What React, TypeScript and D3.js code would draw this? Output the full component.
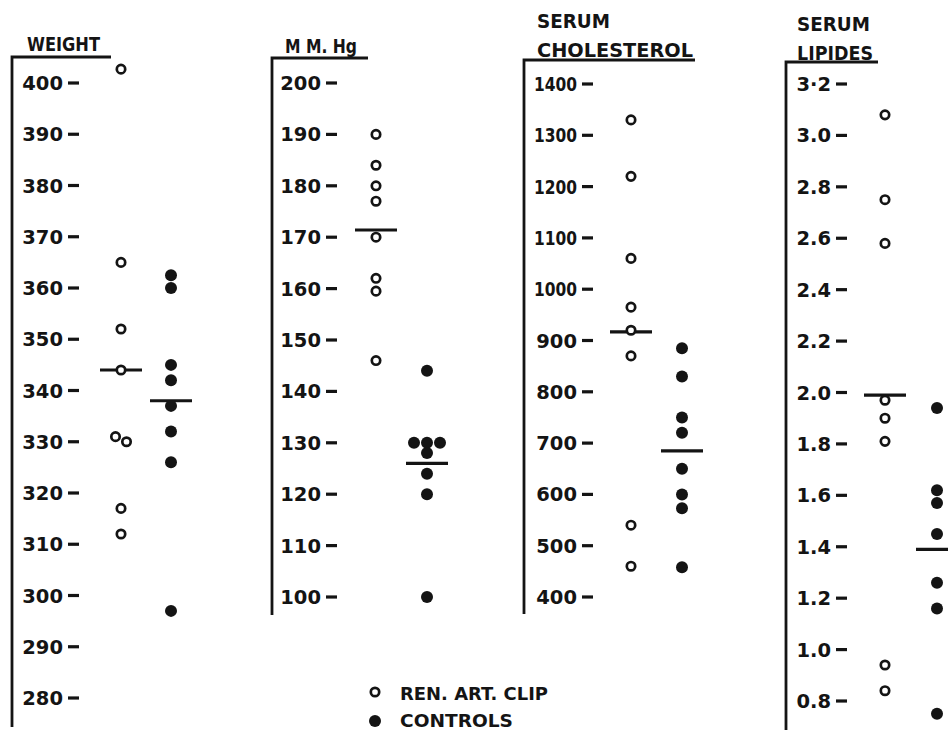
import React from "react";
import * as d3 from "d3";

// ---------- DATA ----------
const groups = ["REN. ART. CLIP", "CONTROLS"];

const weightTicks = [400, 390, 380, 370, 360, 350, 340, 330, 320, 310, 300, 290, 280];
const weightClip = [402.7, 365, 352, 344, 331, 330, 317, 312];
const weightControls = [362.5, 360, 345, 342, 337, 332, 326, 297];
const weightMeans = [344, 338];

const mmHgTicks = [200, 190, 180, 170, 160, 150, 140, 130, 120, 110, 100];
const mmHgClip = [190, 184, 180, 177, 170, 162, 159.5, 146];
const mmHgControls = [144, 130, 130, 130, 128, 124, 120, 100];
const mmHgMeans = [171.4, 126];

const cholTicks = [1400, 1300, 1200, 1100, 1000, 900, 800, 700, 600, 500, 400];
const cholClip = [1330, 1220, 1060, 965, 920, 870, 540, 460];
const cholControls = [885, 830, 750, 720, 650, 600, 573, 458];
const cholMeans = [917, 685];

const lipTicks = [3.2, 3.0, 2.8, 2.6, 2.4, 2.2, 2.0, 1.8, 1.6, 1.4, 1.2, 1.0, 0.8];
const lipTickLabels = ["3·2", "3.0", "2.8", "2.6", "2.4", "2.2", "2.0", "1.8", "1.6", "1.4", "1.2", "1.0", "0.8"];
const lipClip = [3.08, 2.75, 2.58, 1.97, 1.9, 1.81, 0.94, 0.84];
const lipControls = [1.94, 1.62, 1.57, 1.45, 1.26, 1.16, 0.75];
const lipMeans = [1.99, 1.39];

// ---------- LAYOUT ----------
const INK = "#141414";
const FONT = "'DejaVu Sans', sans-serif";

type Title = { text: string; x: number; y: number; w: number };
type Panel = {
  ticks: number[];
  labels: string[];
  clip: number[];
  controls: number[];
  means: number[];
  domain: [number, number];
  range: [number, number];
  axisX: number;
  topY: number;
  lineRight: number;
  bottomY: number;
  labelRight: number;
  colRange: [number, number];
  titles: Title[];
};

const panels: Panel[] = [
  {
    ticks: weightTicks,
    labels: weightTicks.map(String),
    clip: weightClip,
    controls: weightControls,
    means: weightMeans,
    domain: [280, 400],
    range: [698, 83],
    axisX: 12,
    topY: 57,
    lineRight: 111,
    bottomY: 727,
    labelRight: 63,
    colRange: [121, 171],
    titles: [{ text: "WEIGHT", x: 27, y: 51, w: 73 }],
  },
  {
    ticks: mmHgTicks,
    labels: mmHgTicks.map(String),
    clip: mmHgClip,
    controls: mmHgControls,
    means: mmHgMeans,
    domain: [100, 200],
    range: [597, 83],
    axisX: 272,
    topY: 58,
    lineRight: 368,
    bottomY: 615,
    labelRight: 321,
    colRange: [376, 427],
    titles: [{ text: "M M. Hg", x: 285, y: 53, w: 72 }],
  },
  {
    ticks: cholTicks,
    labels: cholTicks.map(String),
    clip: cholClip,
    controls: cholControls,
    means: cholMeans,
    domain: [400, 1400],
    range: [597, 84],
    axisX: 524,
    topY: 60,
    lineRight: 695,
    bottomY: 614,
    labelRight: 577,
    colRange: [631, 682],
    titles: [
      { text: "SERUM", x: 537, y: 28, w: 73 },
      { text: "CHOLESTEROL", x: 537, y: 57, w: 156 },
    ],
  },
  {
    ticks: lipTicks,
    labels: lipTickLabels,
    clip: lipClip,
    controls: lipControls,
    means: lipMeans,
    domain: [0.8, 3.2],
    range: [701, 84],
    axisX: 786,
    topY: 62,
    lineRight: 878,
    bottomY: 730,
    labelRight: 831,
    colRange: [885, 937],
    titles: [
      { text: "SERUM", x: 797, y: 31, w: 73 },
      { text: "LIPIDES", x: 797, y: 60, w: 76 },
    ],
  },
];

function swarm(values: number[], y: d3.ScaleLinear<number, number>, cx: number, spacing: number) {
  const pts = values.map((v) => ({ v, y: y(v), x: cx }));
  const sorted = [...pts].sort((a, b) => a.y - b.y);
  let i = 0;
  while (i < sorted.length) {
    let j = i + 1;
    while (j < sorted.length && Math.abs(sorted[j].y - sorted[i].y) < 7) j++;
    const n = j - i;
    for (let k = i; k < j; k++) sorted[k].x = cx + (k - i - (n - 1) / 2) * spacing;
    i = j;
  }
  return sorted;
}

function PanelView({ p }: { p: Panel }) {
  const y = d3.scaleLinear().domain(p.domain).range(p.range);
  const xg = d3.scalePoint<string>().domain(groups).range(p.colRange);
  const clipPts = swarm(p.clip, y, xg(groups[0])!, 11);
  const ctrlPts = swarm(p.controls, y, xg(groups[1])!, 13);
  return (
    <g>
      {p.titles.map((t, i) => (
        <text
          key={i}
          x={t.x}
          y={t.y}
          textLength={t.w}
          lengthAdjust="spacingAndGlyphs"
          fontFamily={FONT}
          fontWeight="bold"
          fontSize={19}
          fill={INK}
        >
          {t.text}
        </text>
      ))}
      <path
        d={`M${p.lineRight},${p.topY}H${p.axisX}V${p.bottomY}`}
        fill="none"
        stroke={INK}
        strokeWidth={2.8}
      />
      {p.ticks.map((t, i) => {
        const lab = p.labels[i];
        const narrow = lab.length >= 4 && lab[0] === "1";
        return (
          <g key={i} transform={`translate(0,${y(t)})`}>
            <text
              x={p.labelRight}
              dy="0.36em"
              textAnchor="end"
              fontFamily={FONT}
              fontWeight="bold"
              fontSize={19.5}
              fill={INK}
              {...(narrow ? { textLength: 43, lengthAdjust: "spacingAndGlyphs" } : {})}
            >
              {lab}
            </text>
            <line x1={p.labelRight + 5} x2={p.labelRight + 16} stroke={INK} strokeWidth={3.2} />
          </g>
        );
      })}
      {p.means.map((m, i) => {
        const cx = xg(groups[i])!;
        return (
          <line key={i} x1={cx - 21} x2={cx + 21} y1={y(m)} y2={y(m)} stroke={INK} strokeWidth={3.2} />
        );
      })}
      {clipPts.map((d, i) => (
        <circle key={"o" + i} cx={d.x} cy={d.y} r={4.2} fill="white" stroke={INK} strokeWidth={2.7} />
      ))}
      {ctrlPts.map((d, i) => (
        <circle key={"f" + i} cx={d.x} cy={d.y} r={6} fill={INK} />
      ))}
    </g>
  );
}

export default function App() {
  return (
    <svg
      width={948}
      height={732}
      style={{ position: "absolute", left: 0, top: 0, background: "white" }}
    >
      <rect width={948} height={732} fill="white" />
      {panels.map((p, i) => (
        <PanelView key={i} p={p} />
      ))}
      <g>
        <circle cx={375} cy={692} r={4.2} fill="white" stroke={INK} strokeWidth={2.7} />
        <text x={400} y={700} textLength={148} lengthAdjust="spacingAndGlyphs" fontFamily={FONT} fontWeight="bold" fontSize={18} fill={INK}>
          {groups[0]}
        </text>
        <circle cx={375} cy={721} r={6} fill={INK} />
        <text x={400} y={727} textLength={113} lengthAdjust="spacingAndGlyphs" fontFamily={FONT} fontWeight="bold" fontSize={17} fill={INK}>
          {groups[1]}
        </text>
      </g>
    </svg>
  );
}
